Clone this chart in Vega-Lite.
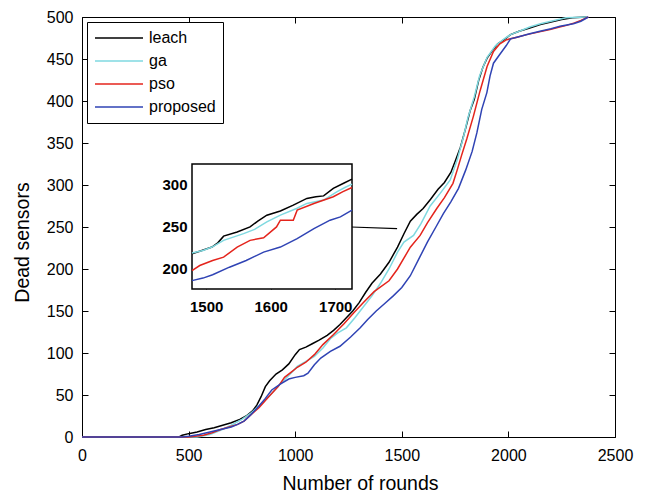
{
  "$schema": "https://vega.github.io/schema/vega-lite/v6.json",
  "width": 533,
  "height": 420,
  "autosize": {"type": "none"},
  "padding": {"left": 82, "top": 17, "right": 31, "bottom": 55},
  "config": {
    "font": "Liberation Sans",
    "view": {"stroke": "black", "strokeWidth": 1},
    "axis": {
      "grid": false,
      "domain": false,
      "zindex": 1,
      "format": "d",
      "labelFont": "Liberation Sans",
      "labelFontSize": 16,
      "labelColor": "black",
      "tickColor": "black",
      "titleFont": "Liberation Sans",
      "titleFontSize": 19.5,
      "titleFontWeight": "normal",
      "titleColor": "black"
    }
  },
  "datasets": {
    "main": [
      {"s": "leach", "r": 0, "d": 0}, {"s": "leach", "r": 455, "d": 0}, {"s": "leach", "r": 470, "d": 2}, {"s": "leach", "r": 500, "d": 4},
      {"s": "leach", "r": 540, "d": 6}, {"s": "leach", "r": 580, "d": 9}, {"s": "leach", "r": 620, "d": 11}, {"s": "leach", "r": 660, "d": 14},
      {"s": "leach", "r": 700, "d": 17}, {"s": "leach", "r": 740, "d": 21}, {"s": "leach", "r": 770, "d": 25}, {"s": "leach", "r": 800, "d": 31},
      {"s": "leach", "r": 820, "d": 38}, {"s": "leach", "r": 840, "d": 48}, {"s": "leach", "r": 860, "d": 60}, {"s": "leach", "r": 880, "d": 67},
      {"s": "leach", "r": 910, "d": 75}, {"s": "leach", "r": 940, "d": 80}, {"s": "leach", "r": 970, "d": 87}, {"s": "leach", "r": 1000, "d": 98},
      {"s": "leach", "r": 1020, "d": 104}, {"s": "leach", "r": 1050, "d": 107}, {"s": "leach", "r": 1080, "d": 111}, {"s": "leach", "r": 1110, "d": 115},
      {"s": "leach", "r": 1150, "d": 121}, {"s": "leach", "r": 1180, "d": 127}, {"s": "leach", "r": 1210, "d": 134}, {"s": "leach", "r": 1240, "d": 142},
      {"s": "leach", "r": 1270, "d": 150}, {"s": "leach", "r": 1300, "d": 160}, {"s": "leach", "r": 1330, "d": 172}, {"s": "leach", "r": 1360, "d": 183},
      {"s": "leach", "r": 1400, "d": 194}, {"s": "leach", "r": 1440, "d": 208}, {"s": "leach", "r": 1480, "d": 226}, {"s": "leach", "r": 1510, "d": 242},
      {"s": "leach", "r": 1540, "d": 257}, {"s": "leach", "r": 1570, "d": 265}, {"s": "leach", "r": 1600, "d": 272}, {"s": "leach", "r": 1635, "d": 283},
      {"s": "leach", "r": 1670, "d": 295}, {"s": "leach", "r": 1700, "d": 303}, {"s": "leach", "r": 1730, "d": 315}, {"s": "leach", "r": 1750, "d": 328},
      {"s": "leach", "r": 1775, "d": 345}, {"s": "leach", "r": 1800, "d": 368}, {"s": "leach", "r": 1820, "d": 388}, {"s": "leach", "r": 1840, "d": 402},
      {"s": "leach", "r": 1860, "d": 424}, {"s": "leach", "r": 1880, "d": 440}, {"s": "leach", "r": 1900, "d": 451}, {"s": "leach", "r": 1925, "d": 460},
      {"s": "leach", "r": 1950, "d": 468}, {"s": "leach", "r": 1980, "d": 473}, {"s": "leach", "r": 2010, "d": 479}, {"s": "leach", "r": 2050, "d": 483},
      {"s": "leach", "r": 2100, "d": 487}, {"s": "leach", "r": 2150, "d": 491}, {"s": "leach", "r": 2200, "d": 494}, {"s": "leach", "r": 2250, "d": 497},
      {"s": "leach", "r": 2300, "d": 499}, {"s": "leach", "r": 2370, "d": 500},

      {"s": "ga", "r": 0, "d": 0}, {"s": "ga", "r": 540, "d": 0}, {"s": "ga", "r": 560, "d": 1}, {"s": "ga", "r": 600, "d": 3},
      {"s": "ga", "r": 650, "d": 8}, {"s": "ga", "r": 700, "d": 14}, {"s": "ga", "r": 750, "d": 21}, {"s": "ga", "r": 790, "d": 28},
      {"s": "ga", "r": 830, "d": 37}, {"s": "ga", "r": 880, "d": 49}, {"s": "ga", "r": 930, "d": 63}, {"s": "ga", "r": 980, "d": 76},
      {"s": "ga", "r": 1010, "d": 84}, {"s": "ga", "r": 1050, "d": 90}, {"s": "ga", "r": 1090, "d": 96}, {"s": "ga", "r": 1130, "d": 106},
      {"s": "ga", "r": 1165, "d": 117}, {"s": "ga", "r": 1200, "d": 124}, {"s": "ga", "r": 1240, "d": 130}, {"s": "ga", "r": 1280, "d": 142},
      {"s": "ga", "r": 1320, "d": 155}, {"s": "ga", "r": 1360, "d": 168}, {"s": "ga", "r": 1400, "d": 183}, {"s": "ga", "r": 1440, "d": 200},
      {"s": "ga", "r": 1480, "d": 220}, {"s": "ga", "r": 1510, "d": 232}, {"s": "ga", "r": 1555, "d": 240}, {"s": "ga", "r": 1590, "d": 254},
      {"s": "ga", "r": 1633, "d": 275}, {"s": "ga", "r": 1680, "d": 290}, {"s": "ga", "r": 1727, "d": 306}, {"s": "ga", "r": 1760, "d": 330},
      {"s": "ga", "r": 1790, "d": 358}, {"s": "ga", "r": 1810, "d": 380}, {"s": "ga", "r": 1840, "d": 405}, {"s": "ga", "r": 1865, "d": 430},
      {"s": "ga", "r": 1900, "d": 452}, {"s": "ga", "r": 1940, "d": 466}, {"s": "ga", "r": 1980, "d": 474}, {"s": "ga", "r": 2010, "d": 479},
      {"s": "ga", "r": 2060, "d": 484}, {"s": "ga", "r": 2100, "d": 488}, {"s": "ga", "r": 2150, "d": 492}, {"s": "ga", "r": 2200, "d": 495},
      {"s": "ga", "r": 2270, "d": 499}, {"s": "ga", "r": 2370, "d": 500},

      {"s": "pso", "r": 0, "d": 0}, {"s": "pso", "r": 500, "d": 0}, {"s": "pso", "r": 530, "d": 1}, {"s": "pso", "r": 570, "d": 2},
      {"s": "pso", "r": 610, "d": 5}, {"s": "pso", "r": 650, "d": 9}, {"s": "pso", "r": 690, "d": 12}, {"s": "pso", "r": 730, "d": 15},
      {"s": "pso", "r": 760, "d": 19}, {"s": "pso", "r": 790, "d": 26}, {"s": "pso", "r": 830, "d": 35}, {"s": "pso", "r": 880, "d": 49},
      {"s": "pso", "r": 920, "d": 60}, {"s": "pso", "r": 950, "d": 71}, {"s": "pso", "r": 980, "d": 77}, {"s": "pso", "r": 1010, "d": 83},
      {"s": "pso", "r": 1050, "d": 89}, {"s": "pso", "r": 1090, "d": 98}, {"s": "pso", "r": 1130, "d": 110}, {"s": "pso", "r": 1180, "d": 122},
      {"s": "pso", "r": 1230, "d": 135}, {"s": "pso", "r": 1275, "d": 148}, {"s": "pso", "r": 1320, "d": 160}, {"s": "pso", "r": 1370, "d": 173},
      {"s": "pso", "r": 1440, "d": 186}, {"s": "pso", "r": 1480, "d": 200}, {"s": "pso", "r": 1540, "d": 226}, {"s": "pso", "r": 1586, "d": 240},
      {"s": "pso", "r": 1620, "d": 255}, {"s": "pso", "r": 1664, "d": 272}, {"s": "pso", "r": 1700, "d": 285}, {"s": "pso", "r": 1740, "d": 302},
      {"s": "pso", "r": 1760, "d": 318}, {"s": "pso", "r": 1780, "d": 335}, {"s": "pso", "r": 1805, "d": 355}, {"s": "pso", "r": 1836, "d": 382},
      {"s": "pso", "r": 1867, "d": 412}, {"s": "pso", "r": 1900, "d": 441}, {"s": "pso", "r": 1930, "d": 459}, {"s": "pso", "r": 1960, "d": 468},
      {"s": "pso", "r": 1992, "d": 473}, {"s": "pso", "r": 2040, "d": 476}, {"s": "pso", "r": 2086, "d": 479}, {"s": "pso", "r": 2140, "d": 482},
      {"s": "pso", "r": 2195, "d": 485}, {"s": "pso", "r": 2240, "d": 488}, {"s": "pso", "r": 2273, "d": 490}, {"s": "pso", "r": 2310, "d": 493},
      {"s": "pso", "r": 2340, "d": 496}, {"s": "pso", "r": 2375, "d": 500},

      {"s": "proposed", "r": 0, "d": 0}, {"s": "proposed", "r": 470, "d": 0}, {"s": "proposed", "r": 500, "d": 1}, {"s": "proposed", "r": 550, "d": 3},
      {"s": "proposed", "r": 600, "d": 6}, {"s": "proposed", "r": 650, "d": 9}, {"s": "proposed", "r": 700, "d": 12}, {"s": "proposed", "r": 730, "d": 15},
      {"s": "proposed", "r": 760, "d": 19}, {"s": "proposed", "r": 790, "d": 26}, {"s": "proposed", "r": 830, "d": 37}, {"s": "proposed", "r": 860, "d": 46},
      {"s": "proposed", "r": 890, "d": 56}, {"s": "proposed", "r": 930, "d": 63}, {"s": "proposed", "r": 970, "d": 69}, {"s": "proposed", "r": 1000, "d": 71},
      {"s": "proposed", "r": 1040, "d": 73}, {"s": "proposed", "r": 1060, "d": 76}, {"s": "proposed", "r": 1090, "d": 86}, {"s": "proposed", "r": 1120, "d": 94},
      {"s": "proposed", "r": 1165, "d": 102}, {"s": "proposed", "r": 1210, "d": 108}, {"s": "proposed", "r": 1260, "d": 119}, {"s": "proposed", "r": 1305, "d": 130},
      {"s": "proposed", "r": 1340, "d": 140}, {"s": "proposed", "r": 1380, "d": 150}, {"s": "proposed", "r": 1420, "d": 159}, {"s": "proposed", "r": 1460, "d": 168},
      {"s": "proposed", "r": 1500, "d": 178}, {"s": "proposed", "r": 1540, "d": 192}, {"s": "proposed", "r": 1586, "d": 215}, {"s": "proposed", "r": 1620, "d": 232},
      {"s": "proposed", "r": 1660, "d": 250}, {"s": "proposed", "r": 1695, "d": 266}, {"s": "proposed", "r": 1730, "d": 280}, {"s": "proposed", "r": 1766, "d": 296},
      {"s": "proposed", "r": 1800, "d": 318}, {"s": "proposed", "r": 1830, "d": 340}, {"s": "proposed", "r": 1852, "d": 362}, {"s": "proposed", "r": 1875, "d": 390},
      {"s": "proposed", "r": 1899, "d": 410}, {"s": "proposed", "r": 1914, "d": 430}, {"s": "proposed", "r": 1930, "d": 445}, {"s": "proposed", "r": 1961, "d": 456},
      {"s": "proposed", "r": 1990, "d": 466}, {"s": "proposed", "r": 2010, "d": 474}, {"s": "proposed", "r": 2040, "d": 476}, {"s": "proposed", "r": 2100, "d": 480},
      {"s": "proposed", "r": 2148, "d": 483}, {"s": "proposed", "r": 2200, "d": 486}, {"s": "proposed", "r": 2242, "d": 489}, {"s": "proposed", "r": 2305, "d": 492},
      {"s": "proposed", "r": 2340, "d": 495}, {"s": "proposed", "r": 2375, "d": 500}
    ],
    "inset": [
      {"s": "leach", "r": 1478, "d": 217}, {"s": "leach", "r": 1490, "d": 220}, {"s": "leach", "r": 1509, "d": 225}, {"s": "leach", "r": 1518, "d": 230},
      {"s": "leach", "r": 1527, "d": 238}, {"s": "leach", "r": 1548, "d": 243}, {"s": "leach", "r": 1568, "d": 249}, {"s": "leach", "r": 1580, "d": 256},
      {"s": "leach", "r": 1594, "d": 263}, {"s": "leach", "r": 1615, "d": 268}, {"s": "leach", "r": 1635, "d": 275}, {"s": "leach", "r": 1656, "d": 283},
      {"s": "leach", "r": 1670, "d": 285}, {"s": "leach", "r": 1682, "d": 286}, {"s": "leach", "r": 1697, "d": 295}, {"s": "leach", "r": 1713, "d": 301},
      {"s": "leach", "r": 1726, "d": 306},
      {"s": "ga", "r": 1478, "d": 218}, {"s": "ga", "r": 1495, "d": 221}, {"s": "ga", "r": 1509, "d": 225}, {"s": "ga", "r": 1527, "d": 233},
      {"s": "ga", "r": 1558, "d": 241}, {"s": "ga", "r": 1575, "d": 246}, {"s": "ga", "r": 1594, "d": 255}, {"s": "ga", "r": 1615, "d": 263},
      {"s": "ga", "r": 1640, "d": 271}, {"s": "ga", "r": 1656, "d": 277}, {"s": "ga", "r": 1682, "d": 281}, {"s": "ga", "r": 1703, "d": 291},
      {"s": "ga", "r": 1715, "d": 296}, {"s": "ga", "r": 1726, "d": 300},
      {"s": "pso", "r": 1478, "d": 197}, {"s": "pso", "r": 1490, "d": 203}, {"s": "pso", "r": 1510, "d": 209}, {"s": "pso", "r": 1527, "d": 213},
      {"s": "pso", "r": 1548, "d": 225}, {"s": "pso", "r": 1568, "d": 233}, {"s": "pso", "r": 1589, "d": 236}, {"s": "pso", "r": 1609, "d": 249},
      {"s": "pso", "r": 1615, "d": 257}, {"s": "pso", "r": 1635, "d": 257}, {"s": "pso", "r": 1641, "d": 269}, {"s": "pso", "r": 1667, "d": 277},
      {"s": "pso", "r": 1697, "d": 285}, {"s": "pso", "r": 1712, "d": 291}, {"s": "pso", "r": 1726, "d": 296},
      {"s": "proposed", "r": 1478, "d": 185}, {"s": "proposed", "r": 1495, "d": 188}, {"s": "proposed", "r": 1510, "d": 192}, {"s": "proposed", "r": 1536, "d": 201},
      {"s": "proposed", "r": 1562, "d": 209}, {"s": "proposed", "r": 1589, "d": 219}, {"s": "proposed", "r": 1615, "d": 225}, {"s": "proposed", "r": 1641, "d": 235},
      {"s": "proposed", "r": 1667, "d": 247}, {"s": "proposed", "r": 1692, "d": 257}, {"s": "proposed", "r": 1708, "d": 261}, {"s": "proposed", "r": 1726, "d": 269}
    ]
  },
  "layer": [
    {
      "layer": [
        {
          "data": {"name": "main"},
          "mark": {"type": "line", "strokeWidth": 1.5, "interpolate": "linear"},
          "encoding": {
            "x": {
              "field": "r", "type": "quantitative",
              "scale": {"domain": [0, 2500], "nice": false, "zero": false},
              "axis": {
                "orient": "bottom", "values": [0, 500, 1000, 1500, 2000, 2500],
                "tickSize": -6, "labelPadding": 16, "labelFlush": false,
                "title": "Number of rounds", "titleX": 278, "titleY": 52,
                "titleAlign": "center", "titleBaseline": "alphabetic"
              }
            },
            "y": {
              "field": "d", "type": "quantitative",
              "scale": {"domain": [0, 500], "nice": false, "zero": false},
              "axis": {
                "orient": "left", "values": [0, 50, 100, 150, 200, 250, 300, 350, 400, 450, 500],
                "tickSize": -6, "labelPadding": 15, "labelFlush": false,
                "title": "Dead sensors", "titleX": -60, "titleY": 225,
                "titleAlign": "center", "titleBaseline": "middle"
              }
            },
            "color": {
              "field": "s", "type": "nominal",
              "scale": {
                "domain": ["leach", "ga", "pso", "proposed"],
                "range": ["#000000", "#7fd9e0", "#e4241c", "#2f43b4"]
              },
              "legend": {
                "title": null, "orient": "none", "legendX": 5, "legendY": 5,
                "symbolType": "stroke", "symbolSize": 2304, "symbolStrokeWidth": 1.5,
                "labelFontSize": 16, "labelColor": "black", "labelOffset": 5,
                "strokeColor": "black", "fillColor": "white", "padding": 7,
                "clipHeight": 18, "rowPadding": 5
              }
            }
          }
        },
        {
          "data": {"values": [{}]},
          "mark": {"type": "rule", "color": "black", "strokeWidth": 1.2},
          "encoding": {
            "x": {
              "datum": 1262, "type": "quantitative",
              "axis": {
                "orient": "top", "values": [0, 500, 1000, 1500, 2000, 2500],
                "tickSize": -6, "labels": false, "title": null
              }
            },
            "x2": {"datum": 1478},
            "y": {
              "datum": 250, "type": "quantitative",
              "axis": {
                "orient": "right", "values": [0, 50, 100, 150, 200, 250, 300, 350, 400, 450, 500],
                "tickSize": -6, "labels": false, "title": null
              }
            },
            "y2": {"datum": 248}
          }
        }
      ],
      "resolve": {"axis": {"x": "independent", "y": "independent"}}
    },
    {
      "layer": [
        {
          "data": {"values": [{}]},
          "mark": {"type": "rect", "fill": "white", "stroke": "black", "strokeWidth": 1.5},
          "encoding": {
            "x": {
              "datum": 1478, "type": "quantitative",
              "scale": {"domain": [1478, 1726], "range": [110, 270], "nice": false, "zero": false},
              "axis": {
                "orient": "bottom", "offset": -148, "values": [1500, 1600, 1700],
                "tickSize": -3, "labelPadding": 13, "labelFontWeight": "bold", "labelFontSize": 15,
                "labelFlush": false, "title": null
              }
            },
            "x2": {"datum": 1726},
            "y": {
              "datum": 175, "type": "quantitative",
              "scale": {"domain": [175, 324], "range": [272, 147], "nice": false, "zero": false},
              "axis": {
                "orient": "left", "offset": -110, "values": [200, 250, 300],
                "tickSize": -3, "labelPadding": 8, "labelFontWeight": "bold", "labelFontSize": 15,
                "labelFlush": false, "title": null
              }
            },
            "y2": {"datum": 324}
          }
        },
        {
          "data": {"name": "inset"},
          "mark": {"type": "line", "strokeWidth": 1.5},
          "encoding": {
            "x": {"field": "r", "type": "quantitative"},
            "y": {"field": "d", "type": "quantitative"},
            "color": {"field": "s", "type": "nominal"}
          }
        }
      ]
    }
  ],
  "resolve": {
    "scale": {"x": "independent", "y": "independent"},
    "axis": {"x": "independent", "y": "independent"}
  }
}
